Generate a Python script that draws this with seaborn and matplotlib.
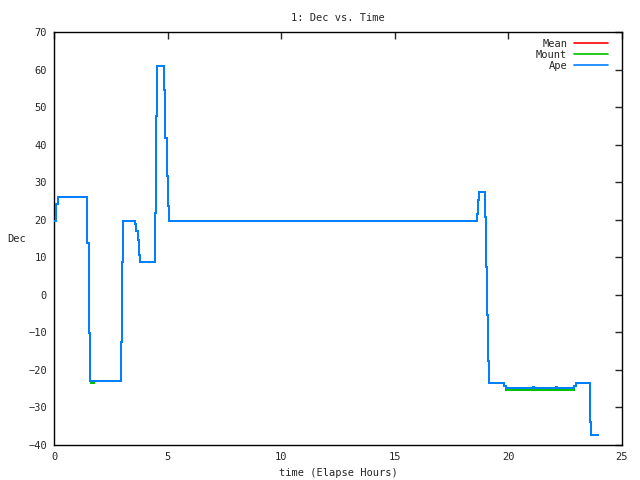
import pandas as pd
import matplotlib
matplotlib.use("Agg")
import matplotlib.pyplot as plt
import seaborn as sns

# Ape (step changes: time in hours, dec held until next time)
ape_t = [0.0, 0.09, 0.18, 1.47, 1.52, 1.57, 2.96, 3.00, 3.05, 3.55, 3.61, 3.70, 3.76, 3.80,
         4.45, 4.49, 4.55, 4.86, 4.90, 4.96, 5.00, 5.05, 18.63, 18.68, 18.72, 18.99, 19.03,
         19.07, 19.12, 19.16, 19.82, 19.88, 21.08, 21.12, 22.10, 22.14, 22.90, 22.99, 23.57,
         23.61, 23.65, 23.93]
ape_dec = [19.7, 24.1, 26.0, 13.9, -10.2, -23.0, -12.5, 8.8, 19.6, 18.8, 17.1, 14.6, 10.6, 8.7,
           21.7, 47.7, 60.9, 54.6, 41.9, 31.6, 23.7, 19.6, 21.5, 25.3, 27.3, 20.7, 7.4,
           -5.4, -17.6, -23.6, -24.2, -24.8, -24.5, -24.8, -24.5, -24.8, -24.3, -23.5, -26.9,
           -33.9, -37.4, -37.4]

# Mount differs slightly in a few places
mount_t = [0.0, 0.09, 0.18, 1.47, 1.52, 1.57, 1.62, 1.78, 2.96, 3.00, 3.05, 3.55, 3.61, 3.70, 3.76, 3.80,
           4.45, 4.49, 4.55, 4.86, 4.90, 4.96, 5.00, 5.05, 18.63, 18.68, 18.72, 18.99, 19.03,
           19.07, 19.12, 19.16, 19.82, 19.88, 22.90, 22.99, 23.57,
           23.61, 23.65, 23.93]
mount_dec = [19.7, 24.1, 26.0, 13.9, -10.2, -23.0, -23.4, -23.0, -12.5, 8.8, 19.6, 18.8, 17.1, 14.6, 10.6, 8.7,
             21.7, 47.7, 60.9, 54.6, 41.9, 31.6, 23.7, 19.6, 21.5, 25.3, 27.3, 20.7, 7.4,
             -5.4, -17.6, -23.6, -24.3, -25.3, -24.3, -23.5, -26.9,
             -33.9, -37.4, -37.4]

mean_t = ape_t
mean_dec = ape_dec

series = {
    "Mean": pd.DataFrame({"t": mean_t, "dec": mean_dec}),
    "Mount": pd.DataFrame({"t": mount_t, "dec": mount_dec}),
    "Ape": pd.DataFrame({"t": ape_t, "dec": ape_dec}),
}
colors = {"Mean": "#ff0000", "Mount": "#00c000", "Ape": "#0080ff"}

sns.set_style("white")
plt.rcParams['font.family'] = ['DejaVu Sans Mono']

fig = plt.figure(figsize=(6.4, 4.8), dpi=100)
ax = fig.add_axes([54 / 640, 1 - 445 / 480, 568 / 640, 413 / 480])

for z, (name, d) in enumerate(series.items()):
    sns.lineplot(data=d, x="t", y="dec", color=colors[name], estimator=None,
                 sort=False, drawstyle="steps-post", linewidth=1.2, ax=ax,
                 antialiased=False, zorder=2 + z)

ax.set_xlim(0, 25)
ax.set_ylim(-40, 70)
ax.set_xticks(range(0, 26, 5))
ax.set_yticks(range(-40, 71, 10))
ax.tick_params(direction="in", length=5, width=1, top=True, right=True,
               labelsize=7.5, pad=5)
for s in ax.spines.values():
    s.set_color("black")
    s.set_linewidth(1)

ax.set_title("1: Dec vs. Time", fontsize=7.5, pad=8)
ax.set_xlabel("time (Elapse Hours)", fontsize=7.5, labelpad=4)
ax.set_ylabel("Dec", fontsize=7.5, rotation=0, labelpad=6, va="center", ha="center")
ax.yaxis.set_label_coords(-0.065, 0.5)

handles = [plt.Line2D([], [], color=colors[k], lw=1.2) for k in ["Mean", "Mount", "Ape"]]
ax.legend(handles, ["Mean", "Mount", "Ape"], loc="upper right", frameon=False,
          markerfirst=False, fontsize=7.5, handlelength=3.3, labelspacing=0.1,
          borderaxespad=0, borderpad=0, handletextpad=0.6,
          bbox_to_anchor=(608 / 640, 1 - 39 / 480), bbox_transform=fig.transFigure)

fig.savefig("out.png", dpi=100)
